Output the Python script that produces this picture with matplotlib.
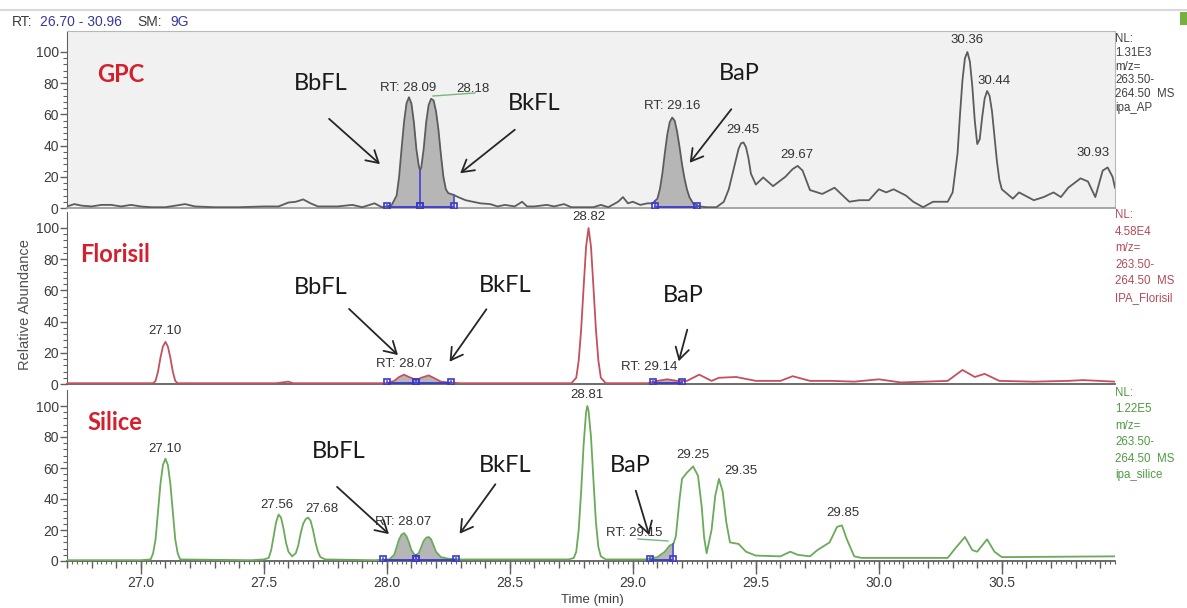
import matplotlib
matplotlib.use("Agg")
import matplotlib.pyplot as plt
import numpy as np
from matplotlib.ticker import MultipleLocator, FixedLocator, FuncFormatter
from matplotlib.patches import Rectangle, FancyArrowPatch
from matplotlib.lines import Line2D

# ---------------- data ----------------
gpc_t = [26.70, 26.73, 26.76, 26.80, 26.84, 26.88, 26.92, 26.96, 27.00, 27.04, 27.10, 27.18, 27.22,
         27.30, 27.40, 27.50, 27.56, 27.60, 27.63, 27.66, 27.69, 27.72, 27.80, 27.86, 27.90, 27.95,
         27.98, 28.00, 28.02, 28.04, 28.05, 28.06, 28.07, 28.08, 28.09, 28.10, 28.11, 28.12, 28.13,
         28.135, 28.14, 28.15, 28.16, 28.17, 28.18, 28.19, 28.20, 28.21, 28.22, 28.23, 28.24, 28.25,
         28.27, 28.29, 28.32, 28.35, 28.38, 28.42, 28.45, 28.48, 28.52, 28.55, 28.57, 28.60, 28.65,
         28.68, 28.72, 28.75, 28.80, 28.84, 28.87, 28.90, 28.94, 28.96, 28.98, 29.00, 29.03, 29.06,
         29.08, 29.10, 29.11, 29.12, 29.13, 29.14, 29.15, 29.16, 29.17, 29.18, 29.19, 29.20, 29.21,
         29.22, 29.23, 29.245, 29.27, 29.30, 29.34, 29.37, 29.39, 29.41, 29.43, 29.44, 29.45, 29.46,
         29.47, 29.48, 29.50, 29.53, 29.57, 29.62, 29.65, 29.67, 29.69, 29.72, 29.77, 29.82, 29.88,
         29.92, 29.96, 30.00, 30.03, 30.06, 30.11, 30.14, 30.18, 30.22, 30.28, 30.30, 30.32, 30.33,
         30.34, 30.35, 30.36, 30.37, 30.38, 30.39, 30.40, 30.41, 30.42, 30.43, 30.44, 30.45, 30.46,
         30.47, 30.48, 30.49, 30.50, 30.545, 30.57, 30.63, 30.67, 30.71, 30.74, 30.77, 30.82, 30.85,
         30.88, 30.91, 30.93, 30.95, 30.96]
gpc_v = [1, 2.5, 1.5, 1, 2, 2, 1, 2, 1, 0.5, 0.5, 2.5, 1,
         0.5, 0.5, 1, 1, 3.5, 4, 5.5, 3, 1, 1, 2, 0.5, 3,
         0.5, 1, 2, 8, 20, 38, 55, 67, 71, 67, 55, 38, 27,
         24, 26, 38, 55, 66, 70, 69, 62, 50, 34, 20, 12, 9.5,
         8.5, 7, 5, 4, 3, 2.5, 1, 2, 1, 4, 1, 1, 2,
         1, 2.5, 0.5, 0.5, 0.5, 2, 0.5, 4, 7, 3, 4, 2, 3,
         3, 6, 12, 22, 35, 47, 55, 58, 56, 49, 39, 28, 19,
         12, 7, 3, 1, 0.5, 0.5, 4, 12, 25, 38, 41.5, 42, 39,
         32, 22, 15, 19.6, 14, 20, 25, 27, 24, 11.5, 9, 13, 4,
         5, 5, 12, 10, 12, 8, 4, 0.5, 4, 4, 10, 35, 60,
         82, 96, 100, 94, 78, 56, 41, 44, 58, 70, 75, 72, 62,
         46, 30, 18, 12, 6, 10, 5, 7, 10, 7, 13, 19, 17,
         7, 24, 26, 20, 13]

flo_t = [26.70, 27.00, 27.05, 27.06, 27.07, 27.08, 27.09, 27.10, 27.11, 27.12, 27.13, 27.14, 27.15,
         27.55, 27.60, 27.62, 28.00, 28.03, 28.05, 28.07, 28.09, 28.12, 28.14, 28.17, 28.19, 28.22,
         28.25, 28.30, 28.75, 28.77, 28.78, 28.79, 28.80, 28.81, 28.82, 28.83, 28.84, 28.85, 28.86,
         28.87, 28.89, 29.06, 29.10, 29.14, 29.18, 29.22, 29.27, 29.32, 29.35, 29.42, 29.50, 29.60,
         29.65, 29.72, 29.81, 29.90, 30.00, 30.09, 30.28, 30.34, 30.39, 30.43, 30.49, 30.63, 30.77,
         30.83, 30.96]
flo_v = [0.5, 0.5, 0.5, 2, 8, 17, 24, 27, 24, 17, 8, 2, 0.5,
         0.5, 1.5, 0.5, 0.5, 2, 4.5, 6, 4.5, 2.5, 4, 5.5, 4, 1.5,
         1, 0.5, 0.5, 4, 15, 35, 62, 88, 100, 88, 62, 35, 15,
         4, 0.5, 0.5, 2, 3, 2, 2, 6, 2, 4, 4.5, 2, 2,
         5, 2, 2, 1.5, 3, 1, 2, 9, 4.5, 6.5, 2, 1.5, 2,
         2.5, 1.5]

sil_t = [26.70, 27.00, 27.04, 27.05, 27.06, 27.07, 27.08, 27.09, 27.10, 27.11, 27.12, 27.13, 27.14,
         27.15, 27.16, 27.45, 27.50, 27.52, 27.53, 27.54, 27.55, 27.56, 27.57, 27.58, 27.59, 27.60,
         27.615, 27.63, 27.64, 27.65, 27.66, 27.67, 27.68, 27.69, 27.70, 27.71, 27.72, 27.73, 27.75,
         27.95, 28.01, 28.03, 28.04, 28.05, 28.06, 28.07, 28.08, 28.09, 28.10, 28.115, 28.13, 28.14,
         28.15, 28.16, 28.17, 28.18, 28.19, 28.20, 28.22, 28.25, 28.30, 28.50, 28.74, 28.76, 28.77,
         28.78, 28.79, 28.80, 28.81, 28.815, 28.82, 28.83, 28.84, 28.85, 28.86, 28.87, 28.89, 29.05,
         29.10, 29.13, 29.15, 29.165, 29.175, 29.19, 29.20, 29.22, 29.245, 29.265, 29.28, 29.29,
         29.30, 29.32, 29.335, 29.35, 29.365, 29.38, 29.395, 29.43, 29.46, 29.50, 29.60, 29.64,
         29.67, 29.72, 29.75, 29.78, 29.80, 29.83, 29.85, 29.87, 29.90, 29.93, 30.28, 30.31, 30.35,
         30.38, 30.40, 30.44, 30.47, 30.50, 30.96]
sil_v = [0.5, 0.5, 1, 5, 14, 32, 50, 62, 66, 62, 50, 32, 14,
         5, 1, 0.5, 1, 2, 7, 16, 25, 30, 28, 21, 12, 6,
         3, 5, 10, 18, 24, 27, 28, 26, 20, 12, 6, 2.5, 1,
         0.5, 1, 4, 9, 14, 17, 18, 16, 12, 7, 3.5, 5, 9,
         13, 15, 15.5, 14, 10, 6, 2.5, 1.5, 1, 1, 1, 2, 6,
         20, 45, 75, 96, 100, 97, 80, 52, 25, 9, 3, 1, 1,
         2.5, 6, 10, 11, 16, 40, 53, 57, 61, 55, 35, 15,
         5, 20, 42, 53, 45, 25, 12, 11, 6, 3.5, 3, 6,
         4, 3, 7, 10, 12, 22, 23, 14, 3, 2, 2, 8, 15.5,
         7, 6, 14, 6, 2.5, 3]

# integrated peaks (start, end)
gpc_integ = [(28.00, 28.135), (28.135, 28.275), (29.09, 29.26)]
flo_integ = [(28.00, 28.12), (28.12, 28.26), (29.08, 29.20)]
sil_integ = [(27.985, 28.12), (28.12, 28.28), (29.07, 29.165)]

gpc_labels = [("RT: 28.09", 28.09, -1, 9), ("28.18", 28.18, 42, 10), ("RT: 29.16", 29.16, 0, 12),
              ("29.45", 29.45, -1, 12), ("29.67", 29.67, -1, 11), ("30.36", 30.36, 0, 12),
              ("30.44", 30.44, 7, 10), ("30.93", 30.93, -15, 14)]
flo_labels = [("27.10", 27.10, 0, 11), ("RT: 28.07", 28.07, 0, 11), ("28.82", 28.82, 0, 11),
              ("RT: 29.14", 29.14, -18, 12)]
sil_labels = [("27.10", 27.10, 0, 10), ("27.56", 27.56, -2, 10), ("27.68", 27.68, 14, 9),
              ("RT: 28.07", 28.07, -1, 11), ("28.81", 28.815, 0, 11), ("RT: 29.15", 29.15, -36, 12),
              ("29.25", 29.245, 0, 11), ("29.35", 29.35, 22, 8), ("29.85", 29.85, 1, 12)]

gpc_info = ["NL:", "1.31E3", "m/z=", "263.50-", "264.50  MS", "ipa_AP"]
flo_info = ["NL:", "4.58E4", "m/z=", "263.50-", "264.50  MS", "IPA_Florisil"]
sil_info = ["NL:", "1.22E5", "m/z=", "263.50-", "264.50  MS", "ipa_silice"]

# ---------------- figure ----------------
W, H = 1187, 608
fig = plt.figure(figsize=(W / 100, H / 100), dpi=100)
fig.patch.set_facecolor("white")
SANS = ["Liberation Sans", "DejaVu Sans"]
CAL = ["Lato", "DejaVu Sans"]


def fpx(x, y):
    return (x / W, 1 - y / H)


X0, X1 = 67, 1115
XMIN, XMAX = 26.70, 30.96

panels = [
    dict(t=gpc_t, v=gpc_v, top=31, bot=208, y100=52, color="#5c5c5c", face="#f1f1f1",
         integ=gpc_integ, labels=gpc_labels, info=gpc_info, info_color="#404040",
         info_y=39, info_dy=13.8),
    dict(t=flo_t, v=flo_v, top=212, bot=384, y100=228, color="#c4505e", face="white",
         integ=flo_integ, labels=flo_labels, info=flo_info, info_color="#b54a5a",
         info_y=215, info_dy=16.6),
    dict(t=sil_t, v=sil_v, top=390, bot=561, y100=406, color="#6aaa58", face="white",
         integ=sil_integ, labels=sil_labels, info=sil_info, info_color="#4f9a40",
         info_y=393, info_dy=16.4),
]

for i, p in enumerate(panels):
    scale = (p["bot"] - p["y100"]) / 100.0
    ymax = (p["bot"] - p["top"]) / scale
    ax = fig.add_axes([X0 / W, 1 - p["bot"] / H, (X1 - X0) / W, (p["bot"] - p["top"]) / H])
    ax.set_xlim(XMIN, XMAX)
    ax.set_ylim(0, ymax)
    ax.set_facecolor(p["face"])
    t = np.array(p["t"])
    v = np.array(p["v"])
    # integration fills
    for (a, b) in p["integ"]:
        m = (t > a) & (t < b)
        tt = np.concatenate([[a], t[m], [b]])
        vv = np.concatenate([[np.interp(a, t, v)], v[m], [np.interp(b, t, v)]])
        ax.fill_between(tt, 0.8, vv, color="#b6b6b6", lw=0, zorder=1)
    ax.plot(t, v, color=p["color"], lw=1.3, zorder=3, solid_joinstyle="round")
    # integration baselines / markers
    for (a, b) in p["integ"]:
        ax.plot([a, b], [0.8, 0.8], color="#3a3ac8", lw=1.3, zorder=4)
        for xx in (a, b):
            ax.plot([xx, xx], [0, max(2.0, min(np.interp(xx, t, v), 30))], color="#5050d0",
                    lw=1.2, zorder=4)
            ax.plot([xx], [1.2], marker="s", ms=4, mfc="none", mec="#3a3ac8", mew=1.2, zorder=5)
    # spines
    for s in ["top", "right"]:
        ax.spines[s].set_visible(i == 0)
        ax.spines[s].set_color("#b8b8b8")
    ax.spines["left"].set_color("#606060")
    ax.spines["bottom"].set_color("#606060" if i > 0 else "#a0a0a0")
    ax.spines["bottom"].set_linewidth(1.3)
    # y ticks
    ax.yaxis.set_major_locator(FixedLocator([0, 20, 40, 60, 80, 100]))
    ax.yaxis.set_minor_locator(FixedLocator([k for k in range(0, 101, 4) if k % 20 != 0]))
    ax.tick_params(axis="y", which="major", length=5, width=1, color="#606060",
                   labelsize=10, labelcolor="#3c3c3c", pad=1)
    ax.tick_params(axis="y", which="minor", length=3, width=0.8, color="#606060")
    for lab in ax.get_yticklabels():
        lab.set_family(SANS)
    if i < 2:
        ax.tick_params(axis="x", which="both", bottom=False, labelbottom=False)
    else:
        ax.xaxis.set_major_locator(MultipleLocator(0.1))
        ax.xaxis.set_minor_locator(MultipleLocator(0.02))
        ax.xaxis.set_major_formatter(FuncFormatter(
            lambda x, pos: f"{x:.1f}" if abs(x * 2 - round(x * 2)) < 1e-6 else ""))
        ax.tick_params(axis="x", which="major", length=5, width=1, color="#606060",
                       labelsize=10, labelcolor="#3c3c3c", pad=6)
        ax.tick_params(axis="x", which="minor", length=2.5, width=0.8, color="#606060")
        for lab in ax.get_xticklabels():
            lab.set_family(SANS)
        sec = ax.secondary_xaxis("bottom")
        sec.xaxis.set_major_locator(MultipleLocator(0.5))
        sec.tick_params(axis="x", length=9, width=1, color="#606060", labelbottom=False)
        sec.spines["bottom"].set_visible(False)
    # peak labels
    for (txt, tl, dx, dy) in p["labels"]:
        ax.annotate(txt, xy=(tl, np.interp(tl, t, v)), xytext=(dx * 0.72, dy * 0.72),
                    textcoords="offset points", ha="center", va="center", fontsize=9.5,
                    color="#333333", family=SANS, zorder=6)
    # info text on right
    for k, line in enumerate(p["info"]):
        fig.text(1115 / W, 1 - (p["info_y"] + k * p["info_dy"]) / H, line, fontsize=8.3,
                 color=p["info_color"], family=SANS, ha="left", va="center")

# green leader lines of moved labels
for (xa, ya, xb, yb) in [(433, 96, 475, 93), (638, 539, 668, 541)]:
    fig.add_artist(Line2D([xa / W, xb / W], [1 - ya / H, 1 - yb / H], color="#78b878", lw=1))

# big method labels
for txt, x, y in [("GPC", 97, 74), ("Florisil", 80, 255), ("Silice", 87, 423)]:
    fig.text(x / W, 1 - y / H, txt, fontsize=17, fontweight="bold", color="#d4202c",
             family=CAL, ha="left", va="center")

# compound labels and arrows
comp = [("BbFL", 321, 83, (327, 117), (382, 166)),
        ("BkFL", 534, 104, (517, 128), (458, 175)),
        ("BaP", 739, 73, (733, 107), (688, 165)),
        ("BbFL", 321, 287, (347, 307), (400, 357)),
        ("BkFL", 505, 285, (488, 307), (448, 364)),
        ("BaP", 683, 295, (688, 327), (678, 364)),
        ("BbFL", 339, 452, (335, 485), (391, 536)),
        ("BkFL", 505, 465, (497, 482), (458, 536)),
        ("BaP", 630, 465, (635, 488), (650, 538))]
for txt, x, y, tail, head in comp:
    fig.text(x / W, 1 - y / H, txt, fontsize=17, color="#1a1a1a", family=CAL,
             ha="center", va="center")
    fig.add_artist(FancyArrowPatch(
        fpx(*tail), fpx(*head), transform=fig.transFigure,
        arrowstyle="->,head_length=6,head_width=3.5", color="#262626", lw=1.3,
        mutation_scale=1.4))

# header
fig.add_artist(Line2D([0, 1], [1 - 10 / H, 1 - 10 / H], color="#d8d8d8", lw=1.5))
hdr = [("RT:", 12, "#3c3c3c"), ("26.70 - 30.96", 40, "#3838a0"), ("SM:", 137, "#3c3c3c"),
       ("9G", 170, "#3838a0")]
for txt, x, c in hdr:
    fig.text(x / W, 1 - 22 / H, txt, fontsize=10, color=c, family=SANS, ha="left", va="center")
fig.add_artist(Rectangle((1180 / W, 1 - 25 / H), 8 / W, 13 / H, transform=fig.transFigure,
                         color="#78b040", lw=0))

# axis titles
fig.text(25 / W, 1 - 305 / H, "Relative Abundance", rotation=90, fontsize=10.5,
         color="#505050", family=SANS, ha="center", va="center")
fig.text(592 / W, 1 - 600 / H, "Time (min)", fontsize=9.5, color="#404040", family=SANS,
         ha="center", va="center")

fig.savefig("out.png", dpi=100)
